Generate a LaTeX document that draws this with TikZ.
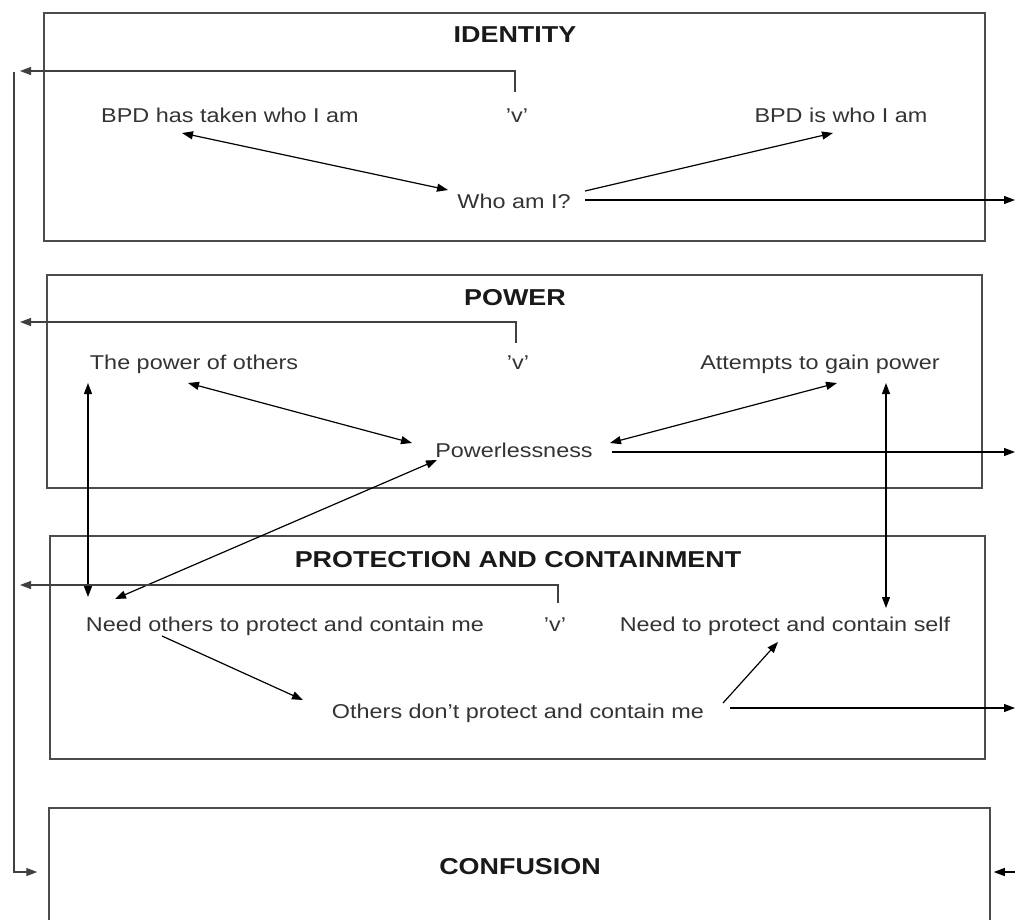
\documentclass[tikz,border=0pt]{standalone}
\usepackage{fontspec}
\setmainfont{Liberation Sans}[FakeStretch=1.17]
\usetikzlibrary{arrows.meta,calc}

\begin{document}
\begin{tikzpicture}[x=1pt,y=-1pt]
      \tikzset{box/.style={draw=black!70, line width=1.5pt, inner sep=0pt},
        heading/.style={font=\fontsize{23}{27}\selectfont\bfseries, text=black!90},
        item/.style={font=\fontsize{20}{24}\selectfont, text=black!80, inner sep=0pt,
          text height=14.5pt, text depth=4pt},
        arr/.style={line width=1.2pt, -{Triangle[length=11pt,width=8pt]}},
        darr/.style={line width=1.2pt, {Triangle[length=11pt,width=8pt]}-{Triangle[length=11pt,width=8pt]}}
      }
      \useasboundingbox (0,0) rectangle (1015,919);

      % the four boxes
      \node [box, minimum width=941pt, minimum height=228pt] (bI) at (514.5,127) {};
      \node [box, minimum width=935pt, minimum height=213pt] (bII) at (514.5,381.5) {};
      \node [box, minimum width=935pt, minimum height=223pt] (bIII) at (517.5,647.5) {};
      \node [box, minimum width=941pt, minimum height=118pt] (bIV) at (519.5,867) {};

      \node [heading] (tI) at (515,35) {IDENTITY};
      \node [heading] (tII) at (515,298) {POWER};
      \node [heading] (tIII) at (518,560) {PROTECTION AND CONTAINMENT};
      \node [heading] (tIV) at (520,867) {CONFUSION};

      % identity
      \node [item] (taken) at (230,117) {BPD has taken who I am};
      \node [item] (vI) at (517,117) {'v'};
      \node [item] (isme) at (841,117) {BPD is who I am};
      \node [item] (who) at (514,203) {Who am I?};

      % power
      \node [item] (others) at (194,364) {The power of others};
      \node [item] (vII) at (518,364) {'v'};
      \node [item] (gain) at (820,364) {Attempts to gain power};
      \node [item] (pl) at (514,452) {Powerlessness};

      % protection and containment
      \node [item] (needo) at (285,626) {Need others to protect and contain me};
      \node [item] (vIII) at (555,626) {'v'};
      \node [item] (self) at (785,626) {Need to protect and contain self};
      \node [item] (dont) at (518,713) {Others don't protect and contain me};

      \coordinate (exitI) at (1015,200);
      \coordinate (exitII) at (1015,452);
      \coordinate (exitIII) at (1015,708);
      \coordinate (entryIV) at (1015,872);
      \coordinate (retI) at (20,71);
      \coordinate (retII) at (20,322);
      \coordinate (retIII) at (20,585);
      \coordinate (rail) at (14,72);

      \draw [darr] ($(taken)+(-48,16)$) -- ($(who)+(-66,-13)$);
      \draw [arr] ($(who)+(71,-12)$) -- ($(isme)+(-8,16)$);
      \draw [arr] ($(who)+(71,-3)$) -- (exitI);
      \draw [arr, black!75] ($(vI)+(-2,-25)$) |- (retI);

      \draw [darr] ($(others)+(-6,19)$) -- ($(pl)+(-102,-9)$);
      \draw [darr] ($(gain)+(17,19)$) -- ($(pl)+(96,-9)$);
      \draw [arr] ($(pl)+(98,0)$) -- (exitII);
      \draw [darr] ($(pl)+(-77,8)$) -- ($(needo)+(-170,-27)$);
      \draw [darr] ($(others)+(-106,19)$) -- ($(needo)+(-197,-29)$);
      \draw [darr] ($(gain)+(66,19)$) -- ($(self)+(101,-18)$);
      \draw [arr, black!75] ($(vII)+(-2,-21)$) |- (retII);

      \draw [arr] ($(needo)+(-123,10)$) -- ($(dont)+(-215,-13)$);
      \draw [arr] ($(dont)+(205,-10)$) -- ($(self)+(-7,16)$);
      \draw [arr] ($(dont)+(212,-5)$) -- (exitIII);
      \draw [arr, black!75] ($(vIII)+(3,-23)$) |- (retIII);

      % into confusion
      \draw [arr, black!75] (rail) |- ($(bIV.west)+(-11,5)$);
      \draw [arr] (entryIV) -- ($(bIV.east)+(3,5)$);

    \end{tikzpicture}
\end{document}
